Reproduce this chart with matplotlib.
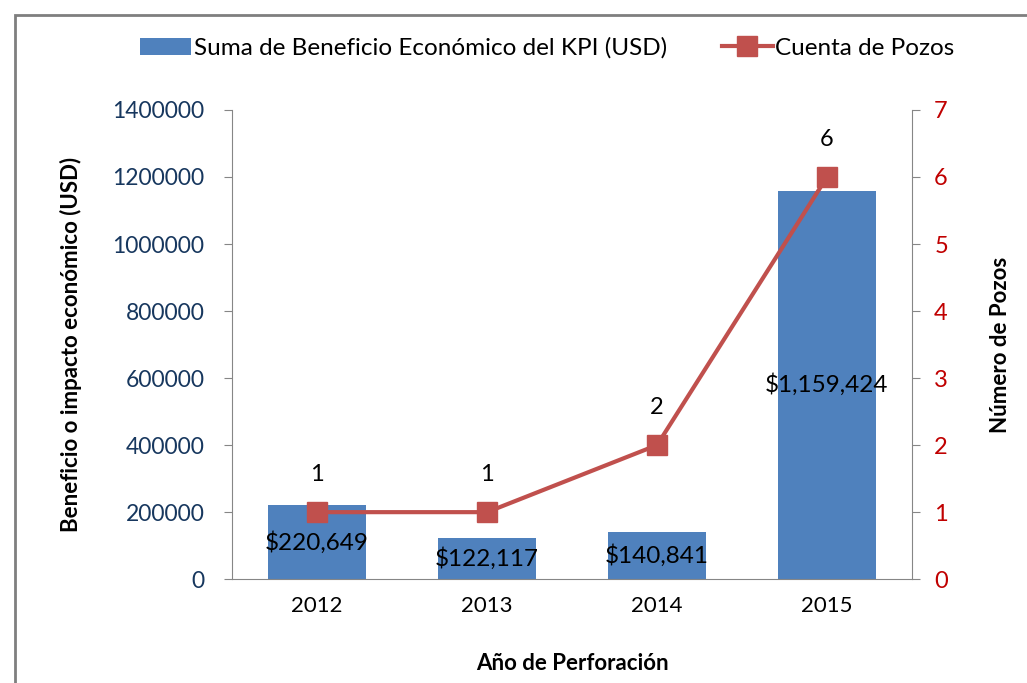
import matplotlib
matplotlib.use('Agg')
import matplotlib.pyplot as plt
from matplotlib.patches import Rectangle

plt.rcParams['font.family'] = ['Lato', 'DejaVu Sans']

years = ['2012', '2013', '2014', '2015']
beneficio = [220649, 122117, 140841, 1159424]
pozos = [1, 1, 2, 6]
bar_labels = ['$220,649', '$122,117', '$140,841', '$1,159,424']

blue = '#4F81BD'
red = '#C0504D'
grey = '#868686'

fig = plt.figure(figsize=(10.27, 6.83), dpi=100)
ax = fig.add_axes([0.226, 0.152, 0.662, 0.687])
x = range(len(years))

ax.bar(x, beneficio, width=0.58, color=blue, label='Suma de Beneficio Económico del KPI (USD)', zorder=2)
for xi, v, lab in zip(x, beneficio, bar_labels):
    ax.text(xi, v / 2, lab, ha='center', va='center', fontsize=17.5, color='black', zorder=5)

ax.set_xlim(-0.5, 3.5)
ax.set_ylim(0, 1400000)
ax.set_yticks(range(0, 1400001, 200000))
ax.set_yticklabels([str(t) for t in range(0, 1400001, 200000)], color='#17375E', fontsize=16.5)
ax.set_xticks(list(x))
ax.set_xticklabels(years, fontsize=16)
ax.tick_params(axis='x', length=0, pad=12)
ax.tick_params(axis='y', color=grey, length=6, pad=14)
for s in ['top', 'right']:
    ax.spines[s].set_visible(False)
for s in ['left', 'bottom']:
    ax.spines[s].set_color(grey)
ax.set_ylabel('Beneficio o impacto económico (USD)', fontsize=16, fontweight='bold', labelpad=22)
ax.set_xlabel('Año de Perforación', fontsize=16, fontweight='bold', labelpad=27)

ax2 = ax.twinx()
ax2.plot(list(x), pozos, color=red, linewidth=3, marker='s', markersize=14, label='Cuenta de Pozos', zorder=4)
for xi, p in zip(x, pozos):
    ax2.annotate(str(p), (xi, p), xytext=(0, 27), textcoords='offset points', ha='center', va='center', fontsize=17)
ax2.set_ylim(0, 7)
ax2.set_yticks(range(0, 8))
ax2.set_yticklabels([str(t) for t in range(0, 8)], color='#C00000', fontsize=17)
ax2.tick_params(axis='y', color=grey, length=6, pad=10)
for s in ['top', 'left', 'bottom']:
    ax2.spines[s].set_visible(False)
ax2.spines['right'].set_color(grey)
ax2.set_ylabel('Número de Pozos', fontsize=16, fontweight='bold', labelpad=30)

h1, l1 = ax.get_legend_handles_labels()
h2, l2 = ax2.get_legend_handles_labels()
fig.legend(h1 + h2, l1 + l2, loc='center', bbox_to_anchor=(0.533, 0.930), ncol=2, frameon=False,
           fontsize=17.5, handlelength=2.1, handletextpad=0.1, columnspacing=2.25)

fig.patches.append(Rectangle((15 / 1027, -0.01), 1.02, 1 - 15 / 683 + 0.01, transform=fig.transFigure,
                             fill=False, edgecolor='#7F7F7F', linewidth=2))

fig.savefig('out.png', dpi=100)
